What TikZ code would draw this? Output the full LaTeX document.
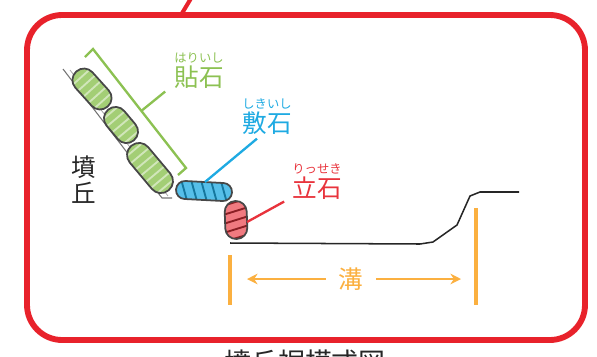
\documentclass[tikz,border=0pt]{standalone}
\usepackage{fontspec}
\setmainfont{Noto Sans CJK JP}
\usetikzlibrary{arrows.meta, positioning, calc}
\definecolor{frameRed}{HTML}{E8222B}
\definecolor{hariGreen}{HTML}{8CC152}
\definecolor{shikiBlue}{HTML}{1EAAE2}
\definecolor{ritsuRed}{HTML}{E8333C}
\definecolor{gouOrange}{HTML}{FBB040}
\tikzset{
  frame/.style={draw=frameRed, line width=5pt, rounded corners=30pt},
  kanji/.style={font=\fontsize{21}{21}\selectfont, inner sep=0pt},
  ruby/.style={font=\fontsize{10.5}{10.5}\selectfont, inner sep=0pt},
  lead/.style={line width=2pt},
  stoneOut/.style={draw=black!72, line width=1.5pt},
  ground/.style={draw=black!85, line width=1.3pt},
  gouBar/.style={draw=gouOrange, line width=2.6pt},
  gouArr/.style={-{Stealth[length=9pt,width=9pt]}, draw=gouOrange, line width=2.2pt},
}
% stone: name, centre, angle, length, height, fill, stripe colour, spacing, skew
\newcommand\drawstone[9]{%
  \begin{scope}[shift={#2}, rotate=#3]
    \coordinate (#1) at (0,0);
    \begin{scope}
      \clip[rounded corners=#5*0.42pt] (-#4/2,-#5/2) rectangle (#4/2,#5/2);
      \fill[#6] (-#4/2,-#5/2) rectangle (#4/2,#5/2);
      \foreach \k in {-6,...,6}
        \draw[#7, line width=1.6pt] (\k*#8-#9,-#5/2) -- (\k*#8+#9,#5/2);
    \end{scope}
    \draw[stoneOut, rounded corners=#5*0.42pt] (-#4/2,-#5/2) rectangle (#4/2,#5/2);
  \end{scope}}

\begin{document}
\begin{tikzpicture}[x=0.03cm, y=-0.03cm]
  \useasboundingbox (0,0) rectangle (597,356);

  % outer frame and its tail
  \draw[frameRed, line width=3.5pt] (181,15) -- (193,-5);
  \draw[frame] (27,15) rectangle (585,340);

  % mound surface
  \draw[black!55, line width=0.9pt] (63,69) -- (162,198) -- (172,198);
  \draw[black!35, line width=0.7pt] (70,70) -- (168,196);

  % ground profile of the ditch
  \draw[ground] (230,243) -- (420,244) -- (433,242) -- (457,225)
       -- (470,196) -- (480,192) -- (519,192);

  % facing stones
  \drawstone{hariA}{(92,89)}{-48}{47}{23}{hariGreen!80!white}{hariGreen!40!white}{8}{0}
  \drawstone{hariB}{(121,125)}{-50}{40}{23}{hariGreen!80!white}{hariGreen!40!white}{8}{0}
  \drawstone{hariC}{(150,168)}{-50}{58}{24}{hariGreen!80!white}{hariGreen!40!white}{8}{0}
  % paving stone and kerb stone
  \drawstone{shikiS}{(204,191)}{-3}{56}{18}{shikiBlue!75!white}{shikiBlue!70!black}{10}{3}
  \drawstone{ritsuS}{(236,220)}{-88}{38}{22}{ritsuRed!65!white}{ritsuRed!60!black}{9}{3}

  % labels
  \node[kanji, hariGreen] (hari) at (199,77) {貼石};
  \node[ruby, hariGreen, above=2pt of hari] (hariR) {はりいし};
  \node[kanji, shikiBlue] (shiki) at (267,123) {敷石};
  \node[ruby, shikiBlue, above=2pt of shiki] (shikiR) {しきいし};
  \node[kanji, ritsuRed] (ritsu) at (317,188) {立石};
  \node[ruby, ritsuRed, above=2pt of ritsu] (ritsuR) {りっせき};
  \node[kanji, black!85, align=center, font=\fontsize{21}{22}\selectfont]
       (funkyu) at (84,180) {墳\\丘};

  % bracket over the facing stones
  \coordinate (brA) at (85,57);
  \coordinate (brB) at (93,49);
  \coordinate (brC) at (186,168);
  \coordinate (brD) at (178,175);
  \draw[hariGreen, lead] (brA) -- (brB) -- (brC) -- (brD);
  \coordinate (brMid) at ($(brB)!0.52!(brC)$);
  \draw[hariGreen, lead] (brMid) -- ($(hari.south west)+(-9,3)$);

  % leaders
  \draw[shikiBlue, lead] ($(shiki.south)+(-10,4)$) -- ($(shikiS)+(1,-9)$);
  \draw[ritsuRed, lead] ($(ritsu.south west)+(-8,2)$) -- ($(ritsuS)+(11,2)$);

  % ditch width
  \draw[gouBar] (230,255) -- (230,305);
  \draw[gouBar] (476,208) -- (476,305);
  \node[kanji, gouOrange, inner xsep=11pt] (gou) at (351,279) {溝};
  \coordinate (gouL) at (247,279);
  \coordinate (gouR) at (461,279);
  \draw[gouArr] (gou.west) -- (gouL);
  \draw[gouArr] (gou.east) -- (gouR);

  % caption
  \node[kanji, black!85, font=\fontsize{23}{23}\selectfont] (title) at (305,362) {墳丘裾模式図};
\end{tikzpicture}
\end{document}
